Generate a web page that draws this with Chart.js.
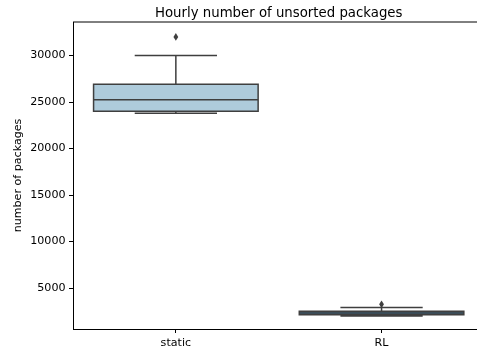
<!DOCTYPE html>
<html>
<head>
<meta charset="utf-8">
<script src="https://cdn.jsdelivr.net/npm/chart.js@4"></script>
<style>
  html, body { margin: 0; padding: 0; background: #fff; overflow: hidden; }
  #wrap { width: 477px; height: 353px; overflow: hidden; }
</style>
</head>
<body>
<div id="wrap"><canvas id="c" width="490" height="353"></canvas></div>
<script>
// box plot stats
const categories = ['static', 'RL']
const whiskerLow = [23800, 2000]
const q1 = [24000, 2130]
const median = [25250, 2330]
const q3 = [26900, 2520]
const whiskerHigh = [30000, 2900]
const outliers = [[32000], [3250]]
const yTicks = [5000, 10000, 15000, 20000, 25000, 30000]
const boxColors = ['#aecbdb', '#3275a1']

const lineColor = '#3f3f3f'
const font = 'DejaVu Sans'

// whiskers, caps, medians, fliers and the box outline
const boxPlot = {
  id: 'boxPlot',
  afterDatasetsDraw(chart) {
    const { ctx, scales: { x, y } } = chart
    const bars = chart.getDatasetMeta(0).data
    ctx.save()
    ctx.strokeStyle = lineColor
    ctx.fillStyle = lineColor
    ctx.lineWidth = 1.5
    bars.forEach((bar, i) => {
      const cx = x.getPixelForValue(i)
      const half = bar.width / 2
      const cap = half / 2
      const yLo = y.getPixelForValue(whiskerLow[i])
      const yQ1 = y.getPixelForValue(q1[i])
      const yMed = y.getPixelForValue(median[i])
      const yQ3 = y.getPixelForValue(q3[i])
      const yHi = y.getPixelForValue(whiskerHigh[i])

      ctx.beginPath()
      ctx.rect(cx - half, yQ3, half * 2, yQ1 - yQ3)
      ctx.moveTo(cx, yQ1); ctx.lineTo(cx, yLo)
      ctx.moveTo(cx, yQ3); ctx.lineTo(cx, yHi)
      ctx.moveTo(cx - cap, yLo); ctx.lineTo(cx + cap, yLo)
      ctx.moveTo(cx - cap, yHi); ctx.lineTo(cx + cap, yHi)
      ctx.moveTo(cx - half, yMed); ctx.lineTo(cx + half, yMed)
      ctx.stroke()

      outliers[i].forEach(v => {
        const py = y.getPixelForValue(v)
        ctx.beginPath()
        ctx.moveTo(cx, py - 3.8)
        ctx.lineTo(cx + 2.4, py)
        ctx.lineTo(cx, py + 3.8)
        ctx.lineTo(cx - 2.4, py)
        ctx.closePath()
        ctx.fill()
      })
    })
    ctx.restore()
  },
  afterDraw(chart) {
    const { ctx, chartArea: a } = chart
    ctx.save()
    // top and right spines
    ctx.strokeStyle = '#000'
    ctx.lineWidth = 1
    ctx.beginPath()
    ctx.moveTo(a.left, a.top); ctx.lineTo(a.right, a.top)
    ctx.moveTo(a.right, a.top); ctx.lineTo(a.right, a.bottom)
    ctx.stroke()
    // title, centred on the axes
    ctx.fillStyle = '#000'
    ctx.font = '13.3px "' + font + '"'
    ctx.textAlign = 'center'
    ctx.textBaseline = 'alphabetic'
    ctx.fillText('Hourly number of unsorted packages', (a.left + a.right) / 2, 16.5)
    ctx.restore()
  }
}

new Chart(document.getElementById('c'), {
  type: 'bar',
  data: {
    labels: categories,
    datasets: [{
      data: categories.map((c, i) => [q1[i], q3[i]]),
      backgroundColor: boxColors,
      borderWidth: 0,
      barPercentage: 0.8,
      categoryPercentage: 1.0
    }]
  },
  options: {
    responsive: false,
    animation: false,
    layout: { padding: { left: 0, top: 22, right: 5.6, bottom: 0 } },
    plugins: {
      legend: { display: false },
      tooltip: { enabled: false }
    },
    scales: {
      x: {
        offset: true,
        afterFit: s => { s.height = 24 },
        border: { display: true, color: '#000', width: 1 },
        grid: { display: true, drawOnChartArea: false, drawTicks: true, tickLength: 4, color: '#000', offset: false },
        ticks: { color: '#000', font: { family: font, size: 11.1 }, padding: 3 }
      },
      y: {
        min: 600,
        max: 33600,
        afterBuildTicks: s => { s.ticks = yTicks.map(v => ({ value: v })) },
        afterFit: s => { s.width = 73 },
        border: { display: true, color: '#000', width: 1 },
        grid: { display: true, drawOnChartArea: false, drawTicks: true, tickLength: 4, color: '#000' },
        ticks: { color: '#000', font: { family: font, size: 11.1 }, padding: 3.5, callback: v => String(v) },
        title: {
          display: true,
          text: 'number of packages',
          color: '#000',
          font: { family: font, size: 11.1 },
          padding: { top: 11.8, bottom: 0 }
        }
      }
    }
  },
  plugins: [boxPlot]
})
</script>
</body>
</html>
